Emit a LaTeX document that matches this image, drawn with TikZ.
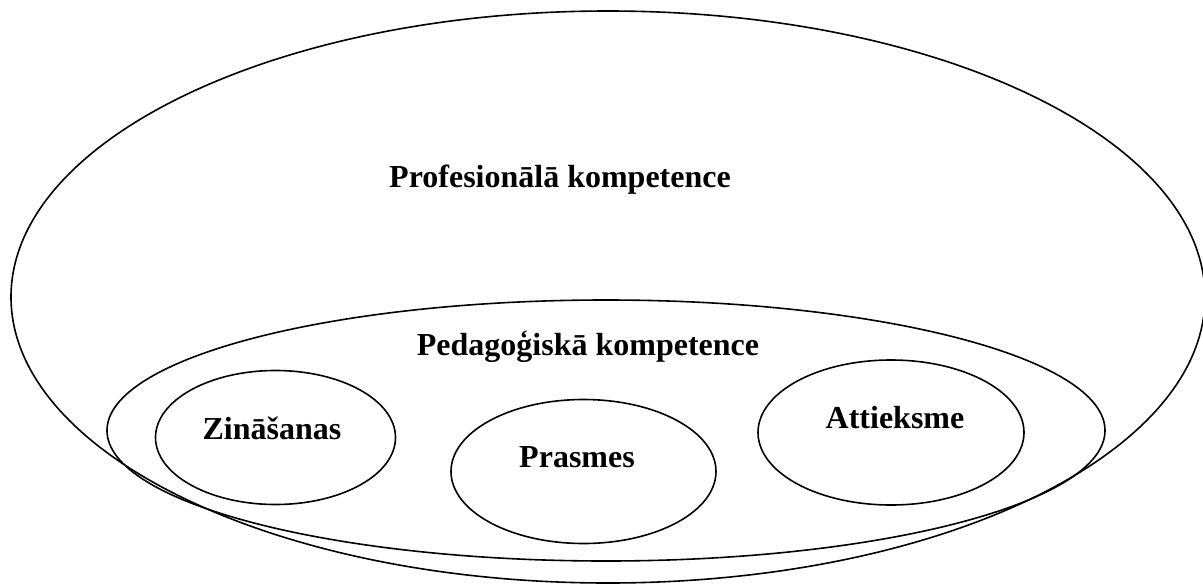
\documentclass[tikz,border=0pt]{standalone}
\usepackage{fontspec}
\setmainfont{Liberation Serif}
\usetikzlibrary{shapes.geometric}
\tikzset{
  oval/.style={draw=black, line width=1.6pt, ellipse, inner sep=0pt, outer sep=0pt},
  lbl/.style={anchor=base, inner sep=0pt, font=\fontsize{32}{38}\selectfont\bfseries}
}
\begin{document}
\begin{tikzpicture}[x=1pt,y=-1pt]
\useasboundingbox (0,0) rectangle (1203,584);
\node[oval, minimum width=1194pt, minimum height=572pt] (prof) at (608,297) {};
\node[oval, minimum width=998pt, minimum height=261pt] (ped) at (606,430.5) {};
\node[oval, minimum width=240pt, minimum height=134pt] (zin) at (275.5,437.5) {};
\node[oval, minimum width=265pt, minimum height=144pt] (pra) at (583.5,471.5) {};
\node[oval, minimum width=266pt, minimum height=145pt] (att) at (891,432.5) {};
\node[lbl] (tprof) at (560,187) {Profesionālā kompetence};
\node[lbl] (tped) at (588,355.5) {Pedagoģiskā kompetence};
\node[lbl] (tzin) at (272,439) {Zināšanas};
\node[lbl] (tpra) at (577,467) {Prasmes};
\node[lbl] (tatt) at (895,428) {Attieksme};
\end{tikzpicture}
\end{document}
